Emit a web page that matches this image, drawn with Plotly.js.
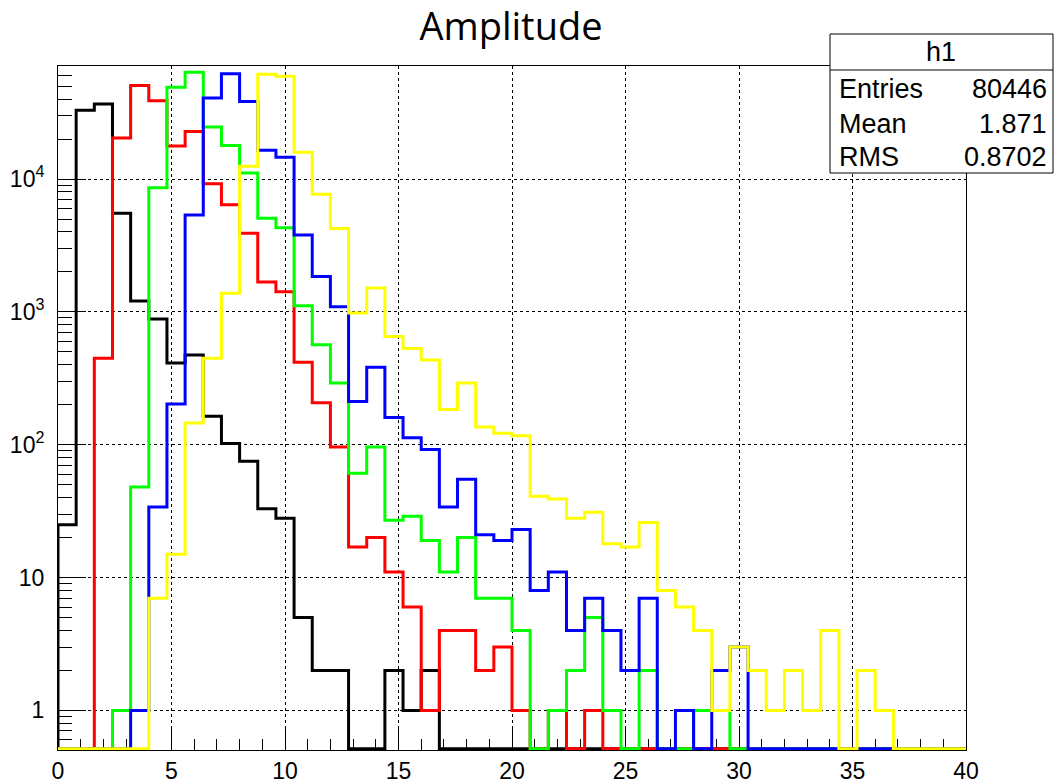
<!DOCTYPE html>
<html>
<head>
<meta charset="utf-8">
<script src="https://cdn.plot.ly/plotly-3.0.1.min.js"></script>
<style>html,body{margin:0;padding:0;background:#fff;}#chart{width:1054px;height:783px;}</style>
</head>
<body>
<div id="chart"></div>
<script>
// Histogram: 50 bins of width 0.8 from 0 to 40 (log y axis)
const xMin = 0;
const binWidth = 0.8;
const nBins = 50;

const black  = [25, 33000, 36700, 5520, 1210, 883, 413, 474, 164, 102, 75, 33, 28, 5, 2, 2, 0, 0, 2, 1, 2,
                0,0,0,0,0,0,0,0,0,0,0,0,0,0,0,0,0,0,0,0,0,0,0,0,0,0,0,0,0];
const red    = [0, 0, 447, 20400, 50700, 38900, 17700, 22800, 9200, 6400, 3900, 1680, 1420, 417, 207, 96, 17, 20, 11, 6,
                1, 4, 4, 2, 3, 1, 0, 1, 0, 1,
                0,0,0,0,0,0,0,0,0,0,0,0,0,0,0,0,0,0,0,0];
const green  = [0, 0, 0, 1, 48, 8600, 49000, 63800, 24700, 17900, 11100, 5060, 4300, 1110, 566, 292, 61, 96, 27, 29,
                19, 11, 20, 7, 7, 4, 0, 1, 2, 5, 1, 0, 2, 0, 0, 1, 1,
                0,0,0,0,0,0,0,0,0,0,0,0,0];
const blue   = [0, 0, 0, 0, 1, 34, 203, 5370, 40700, 62000, 38400, 16500, 14600, 3790, 1845, 1092, 212, 383, 160, 113,
                92, 34, 55, 21, 19, 23, 8, 11, 4, 7, 4, 2, 7, 0, 1, 0, 2, 3,
                0,0,0,0,0,0,0,0,0,0,0,0];
const yellow = [0, 0, 0, 0, 0, 7, 15, 146, 447, 1380, 12500, 61600, 59300, 15900, 7680, 4250, 979, 1510, 653, 531,
                435, 184, 292, 136, 122, 117, 41, 39, 28, 31, 18, 17, 26, 8, 6, 4, 1, 3, 2, 1,
                2, 1, 4, 0, 2, 1, 0, 0, 0, 0];

const xTickVals = [0, 5, 10, 15, 20, 25, 30, 35, 40];
const yTickVals = [1, 10, 100, 1000, 10000];
const yTickText = ['1', '10', '10<sup>2</sup>', '10<sup>3</sup>', '10<sup>4</sup>'];

const statsTitle = 'h1';
const statsLabels = ['Entries', 'Mean', 'RMS'];
const statsValues = ['80446', '1.871', '0.8702'];
const chartTitle = 'Amplitude';

// ---- layout geometry (pixels) ----
const W = 1054, H = 783;
const mL = 58, mR = 88, mT = 66, mB = 33;
const pw = W - mL - mR, ph = H - mT - mB;
const yLogMin = -0.298, yLogMax = 4.851;
const floorVal = Math.pow(10, yLogMin + 1.2 / (ph / (yLogMax - yLogMin)));

function px2x(px) { return (px - mL) / pw; }
function py2y(py) { return (H - mB - py) / ph; }

function stepTrace(vals, color) {
  const xs = [xMin], ys = [floorVal];
  for (let i = 0; i < vals.length; i++) {
    xs.push(xMin + i * binWidth);
    ys.push(vals[i] > 0 ? vals[i] : floorVal);
  }
  xs.push(xMin + nBins * binWidth);
  ys.push(floorVal);
  return {
    x: xs, y: ys, type: 'scatter', mode: 'lines',
    line: {shape: 'hv', color: color, width: 3},
    hoverinfo: 'skip', showlegend: false
  };
}

const traces = [
  stepTrace(black, '#000000'),
  stepTrace(red, '#ff0000'),
  stepTrace(green, '#00ff00'),
  stepTrace(blue, '#0000ff'),
  stepTrace(yellow, '#ffff00')
];

const minorY = [];
for (let d = -1; d <= 4; d++) {
  for (let k = 2; k <= 9; k++) {
    const v = k * Math.pow(10, d);
    const lv = Math.log10(v);
    if (lv > yLogMin && lv < yLogMax) minorY.push(v);
  }
}
const minorX = [];
for (let v = 1; v < 40; v++) if (v % 5 !== 0) minorX.push(v);

const tickFont = {family: 'Liberation Sans, Arial, sans-serif', size: 23, color: '#000'};
const statFont = {family: 'Liberation Sans, Arial, sans-serif', size: 27, color: '#000'};

const rowY = [89, 124, 157];
const annotations = [
  {text: statsTitle, xref: 'paper', yref: 'paper', x: px2x(941), y: py2y(52),
   xanchor: 'center', yanchor: 'middle', showarrow: false, font: statFont}
];
for (let i = 0; i < statsLabels.length; i++) {
  annotations.push({text: statsLabels[i], xref: 'paper', yref: 'paper', x: px2x(837), y: py2y(rowY[i]),
    xanchor: 'left', yanchor: 'middle', showarrow: false, font: statFont});
  annotations.push({text: statsValues[i], xref: 'paper', yref: 'paper', x: px2x(1049), y: py2y(rowY[i]),
    xanchor: 'right', yanchor: 'middle', showarrow: false, font: statFont});
}

const layout = {
  width: W, height: H,
  margin: {l: mL, r: mR, t: mT, b: mB, pad: 0},
  paper_bgcolor: '#fff', plot_bgcolor: '#fff',
  showlegend: false,
  title: {text: chartTitle, font: {family: 'Open Sans, sans-serif', size: 38, color: '#000'},
          x: px2x(511), xref: 'paper', xanchor: 'center', y: 1 - 27 / H, yref: 'container', yanchor: 'middle'},
  xaxis: {
    type: 'linear', range: [0, 40], autorange: false,
    tickmode: 'array', tickvals: xTickVals,
    ticks: 'inside', ticklen: 21, tickwidth: 1, tickcolor: '#000',
    showline: true, linecolor: '#000', linewidth: 1, mirror: true,
    showgrid: true, gridcolor: '#000', gridwidth: 1, griddash: 'dot',
    zeroline: false, tickfont: tickFont, ticklabelstandoff: 0,
    layer: 'below traces',
    minor: {tickmode: 'array', tickvals: minorX, ticks: 'inside', ticklen: 11, tickcolor: '#000', tickwidth: 1, showgrid: false}
  },
  yaxis: {
    type: 'log', range: [yLogMin, yLogMax], autorange: false,
    tickmode: 'array', tickvals: yTickVals, ticktext: yTickText,
    ticks: 'inside', ticklen: 28, tickwidth: 1, tickcolor: '#000',
    showline: true, linecolor: '#000', linewidth: 1, mirror: true,
    showgrid: true, gridcolor: '#000', gridwidth: 1, griddash: 'dot',
    zeroline: false, tickfont: tickFont, ticklabelstandoff: 8,
    layer: 'below traces',
    minor: {tickmode: 'array', tickvals: minorY, ticks: 'inside', ticklen: 14, tickcolor: '#000', tickwidth: 1, showgrid: false}
  },
  shapes: [
    {type: 'rect', xref: 'paper', yref: 'paper', x0: px2x(830), x1: px2x(1053), y0: py2y(173), y1: py2y(34),
     line: {color: '#000', width: 1}, fillcolor: '#fff', layer: 'above'},
    {type: 'line', xref: 'paper', yref: 'paper', x0: px2x(830), x1: px2x(1053), y0: py2y(70), y1: py2y(70),
     line: {color: '#000', width: 1}, layer: 'above'}
  ],
  annotations: annotations
};

Plotly.newPlot('chart', traces, layout, {displayModeBar: false, staticPlot: true});
</script>
</body>
</html>
